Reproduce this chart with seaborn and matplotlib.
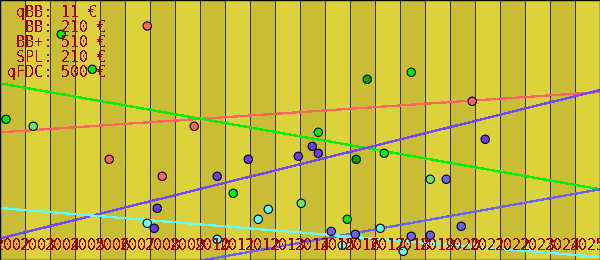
import matplotlib
matplotlib.use("Agg")
import matplotlib.pyplot as plt
import matplotlib.transforms as mtransforms
import seaborn as sns
import pandas as pd

# ---------------- data ----------------
years = list(range(2002, 2026))

legend_names = ["qBB", "BB", "BB+", "SPL", "qFDC"]
legend_prices = [11, 210, 510, 210, 500]

red_x = [2007.89, 2009.77, 2006.37, 2008.49, 2020.89]
red_y = [234.0, 133.7, 100.7, 83.7, 158.7]

green_x = [2002.24, 2004.45, 2005.69, 2011.33, 2014.73, 2015.89, 2017.37, 2018.45]
green_y = [140.7, 225.7, 190.7, 66.7, 127.7, 40.7, 106.7, 187.7]

lightgreen_x = [2003.33, 2014.05, 2019.21]
lightgreen_y = [133.7, 56.7, 80.7]

darkgreen_x = [2016.69, 2016.25]
darkgreen_y = [180.7, 100.7]

purple_x = [2008.29, 2008.17, 2010.69, 2011.93, 2013.93, 2014.49, 2014.73, 2021.41]
purple_y = [51.7, 31.7, 83.7, 100.7, 103.7, 113.7, 106.7, 120.7]

blue_x = [2015.25, 2016.21, 2018.45, 2019.21, 2019.85, 2020.45]
blue_y = [28.7, 25.7, 23.7, 24.7, 80.7, 33.7]

cyan_x = [2007.89, 2010.69, 2012.33, 2012.73, 2015.69, 2017.21, 2018.13]
cyan_y = [36.7, 20.7, 40.7, 50.7, 14.7, 31.7, 8.7]

trend_years = [2002, 2026]
trend_red = [127.7, 168.0]
trend_green = [176.7, 70.7]
trend_purple = [21.5, 170.0]
trend_blue = [-36.4, 70.7]
trend_cyan = [52.0, 3.0]

# ---------------- styling ----------------
sns.set_style("white")
plt.rcParams["font.family"] = ["DejaVu Sans Mono", "DejaVu Sans"]
plt.rcParams["text.antialiased"] = False

TXT = "#a80000"
LIGHT = "#dcd33c"
DARK = "#c8bd34"
GRID = "#34343e"

colors = {
    "red": "#ff6464",
    "green": "#00ee00",
    "lightgreen": "#66ee66",
    "darkgreen": "#00a800",
    "purple": "#6a3cf0",
    "blue": "#6464f0",
    "cyan": "#66ffff",
}
line_colors = {
    "red": "#ff6464",
    "green": "#00ee00",
    "purple": "#7048ff",
    "blue": "#6464ff",
    "cyan": "#66ffff",
}

pts = pd.concat([
    pd.DataFrame({"year": red_x, "value": red_y, "grp": "red"}),
    pd.DataFrame({"year": green_x, "value": green_y, "grp": "green"}),
    pd.DataFrame({"year": lightgreen_x, "value": lightgreen_y, "grp": "lightgreen"}),
    pd.DataFrame({"year": darkgreen_x, "value": darkgreen_y, "grp": "darkgreen"}),
    pd.DataFrame({"year": purple_x, "value": purple_y, "grp": "purple"}),
    pd.DataFrame({"year": blue_x, "value": blue_y, "grp": "blue"}),
    pd.DataFrame({"year": cyan_x, "value": cyan_y, "grp": "cyan"}),
], ignore_index=True)

trends = pd.concat([
    pd.DataFrame({"year": trend_years, "value": trend_red, "grp": "red"}),
    pd.DataFrame({"year": trend_years, "value": trend_green, "grp": "green"}),
    pd.DataFrame({"year": trend_years, "value": trend_purple, "grp": "purple"}),
    pd.DataFrame({"year": trend_years, "value": trend_blue, "grp": "blue"}),
    pd.DataFrame({"year": trend_years, "value": trend_cyan, "grp": "cyan"}),
], ignore_index=True)

fig = plt.figure(figsize=(6, 2.6), dpi=100)
ax = fig.add_axes([0, 0, 1, 1])

# alternating year stripes
for i, y in enumerate(years):
    ax.axvspan(y, y + 1, color=DARK if i % 2 == 0 else LIGHT, lw=0, zorder=0)
for y in years + [years[-1] + 1]:
    ax.axvline(y, color=GRID, lw=0.72, antialiased=False, zorder=1)

sns.lineplot(data=trends, x="year", y="value", hue="grp", palette=line_colors,
             legend=False, ax=ax, lw=0.9, antialiased=False, zorder=2,
             estimator=None, sort=False)

sns.scatterplot(data=pts, x="year", y="value", hue="grp", palette=colors,
                legend=False, ax=ax, s=36, edgecolor="black", linewidth=0.8,
                zorder=3)

ax.set_xlim(2002, 2026)
ax.set_ylim(0, 260)
ax.set_xticks([])
ax.set_yticks([])
ax.set_xlabel("")
ax.set_ylabel("")
for sp in ax.spines.values():
    sp.set_visible(True)
    sp.set_color("black")
    sp.set_linewidth(1.0)

# year labels inside the plot at the bottom
trans = mtransforms.blended_transform_factory(ax.transData, ax.transAxes)
for y in years:
    ax.text(y + 0.5, 1 - 250 / 260, str(y), transform=trans, ha="center",
            va="baseline", color=TXT, fontsize=10.8, zorder=4)

# price legend text
baselines = [17.5, 32.3, 47.1, 61.9, 76.6]
for name, price, b in zip(legend_names, legend_prices, baselines):
    ax.text(7 / 600, 1 - b / 260, f"{name:>4}: {price} €", transform=ax.transAxes,
            ha="left", va="baseline", color=TXT, fontsize=10.8, zorder=4)

fig.savefig("out.png", dpi=100)
